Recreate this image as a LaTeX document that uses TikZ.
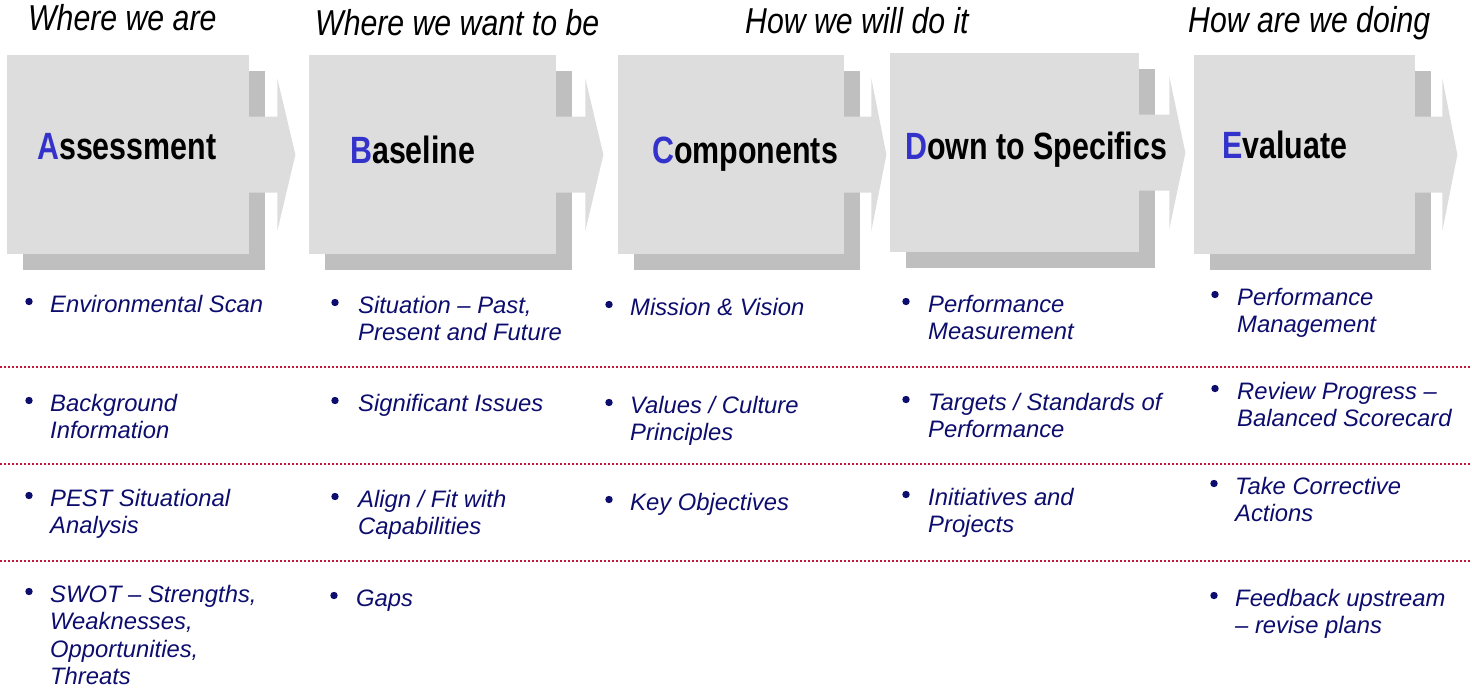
\documentclass[tikz,border=0pt]{standalone}
\usepackage{fontspec}
\setmainfont{Liberation Sans}
\usetikzlibrary{calc,backgrounds}

\definecolor{boxgray}{HTML}{DDDDDD}
\definecolor{shadowgray}{HTML}{BFBFBF}
\definecolor{titleblue}{HTML}{3333CC}
\definecolor{navy}{HTML}{0D0D6E}
\definecolor{dotred}{HTML}{C8163A}

% one phase box: shadow behind, arrow to the right
\newcommand\phasebox[6]{% name, left, top, width, arrow base offset, arrow tip offset
  \node[stagebox, minimum width=#4pt] (#1) at (#2,#3) {};
  \begin{pgfonlayer}{background}
    \fill[shadowgray] ($(#1.north west)+(16,16)$) rectangle ($(#1.south east)+(16,16)$);
  \end{pgfonlayer}
  \fill[boxgray] ([xshift=-1pt]#1.east) ++(0,-38) -- ++(#5+1,0) -- ++(0,-38) -- ++(#6-#5,76)
     -- ++(#5-#6,76) -- ++(0,-38) -- ++(-#5-1,0) -- cycle;
}
% bullet item: name, bullet x, text x, first baseline, lines
\newcommand\bul[5]{%
  \fill[navy] (#2,#4-10.5) circle (3.7);
  \node[itemtext] (#1) at (#3,#4) {\begin{tabular}[t]{@{}l@{}}#5\end{tabular}};
}

\begin{document}
\begin{tikzpicture}[x=1pt,y=-1pt,
  stagebox/.style={fill=boxgray, draw=none, minimum height=199pt, inner sep=0pt, anchor=north west},
  stagetitle/.style={anchor=base west, inner sep=0pt, text=black,
     font=\fontsize{38}{42}\selectfont\bfseries},
  headlabel/.style={anchor=base west, inner sep=0pt, text=black,
     font=\fontsize{36}{40}\selectfont\itshape},
  itemtext/.style={anchor=base west, inner sep=0pt, text=navy,
     font=\fontsize{23.8}{27.5}\selectfont\itshape},
  dotline/.style={dotred, line width=2pt, dash pattern=on 2pt off 2pt}]

\useasboundingbox (0,0) rectangle (1472,690);

% headings above the phases
\node[headlabel] (hA) at (28,31)   {\scalebox{0.84}[1]{Where we are}};
\node[headlabel] (hB) at (315,36)  {\scalebox{0.84}[1]{Where we want to be}};
\node[headlabel] (hC) at (745,34)  {\scalebox{0.84}[1]{How we will do it}};
\node[headlabel] (hE) at (1188,33) {\scalebox{0.84}[1]{How are we doing}};

% phase boxes with arrows
\phasebox{bA}{7}{55}{242}{28}{46}
\phasebox{bB}{309}{55}{247}{29}{47}
\phasebox{bC}{618}{55}{226}{27}{42}
\phasebox{bD}{890}{53}{249}{30}{46}
\phasebox{bE}{1194}{55}{221}{27}{42}

% phase titles
\node[stagetitle] (tA) at (37,159)   {\scalebox{0.8}[1]{\textcolor{titleblue}{A}ssessment}};
\node[stagetitle] (tB) at (350,163)  {\scalebox{0.8}[1]{\textcolor{titleblue}{B}aseline}};
\node[stagetitle] (tC) at (652,163)  {\scalebox{0.8}[1]{\textcolor{titleblue}{C}omponents}};
\node[stagetitle] (tD) at (905,160)  {\scalebox{0.8}[1]{\textcolor{titleblue}{D}own to Specifics}};
\node[stagetitle] (tE) at (1222,158) {\scalebox{0.8}[1]{\textcolor{titleblue}{E}valuate}};

% row separators
\draw[dotline] (0,367) -- (1472,367);
\draw[dotline] (0,464) -- (1472,464);
\draw[dotline] (0,561) -- (1472,561);

% Assessment
\bul{iA1}{29}{50}{312}{Environmental Scan}
\bul{iA2}{29}{50}{411}{Background\\Information}
\bul{iA3}{29}{50}{506}{PEST Situational\\Analysis}
\bul{iA4}{29}{50}{602}{SWOT – Strengths,\\Weaknesses,\\Opportunities,\\Threats}
% Baseline
\bul{iB1}{335}{358}{313}{Situation – Past,\\Present and Future}
\bul{iB2}{335}{358}{411}{Significant Issues}
\bul{iB3}{335}{358}{507}{Align / Fit with\\Capabilities}
\bul{iB4}{334}{356}{606}{Gaps}
% Components
\bul{iC1}{609}{630}{315}{Mission \& Vision}
\bul{iC2}{609}{630}{413}{Values / Culture\\Principles}
\bul{iC3}{609}{630}{510}{Key Objectives}
% Down to Specifics
\bul{iD1}{906}{928}{312}{Performance\\Measurement}
\bul{iD2}{906}{928}{410}{Targets / Standards of\\Performance}
\bul{iD3}{906}{928}{505}{Initiatives and\\Projects}
% Evaluate
\bul{iE1}{1215}{1237}{305}{Performance\\Management}
\bul{iE2}{1215}{1237}{399}{Review Progress –\\Balanced Scorecard}
\bul{iE3}{1214}{1235}{494}{Take Corrective\\Actions}
\bul{iE4}{1214}{1235}{606}{Feedback upstream\\– revise plans}

\end{tikzpicture}
\end{document}
